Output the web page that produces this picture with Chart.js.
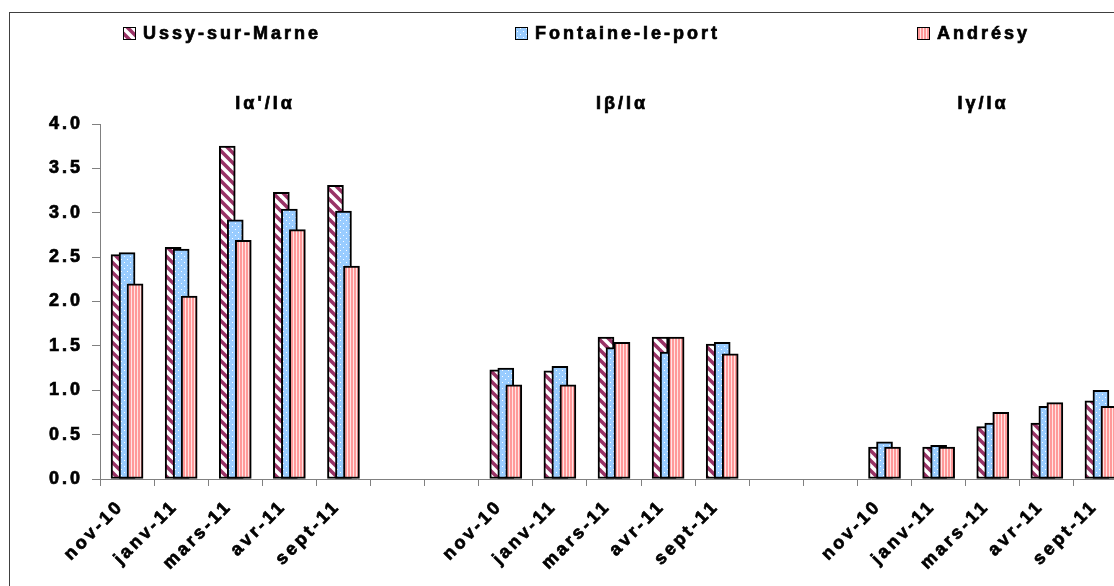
<!DOCTYPE html>
<html>
<head>
<meta charset="utf-8">
<script src="https://cdn.jsdelivr.net/npm/chart.js@4.4.0/dist/chart.umd.min.js"></script>
<style>
  html, body { margin: 0; padding: 0; background: #fff; overflow: hidden; }
</style>
</head>
<body>
<canvas id="chart" width="1140" height="600"></canvas>
<script>
// categories
const months = ['nov-10', 'janv-11', 'mars-11', 'avr-11', 'sept-11'];
const ratioTitles = ["Iα'/Iα", 'Iβ/Iα', 'Iγ/Iα'];
const seriesNames = ['Ussy-sur-Marne', 'Fontaine-le-port', 'Andrésy'];

// values: Iα'/Iα, Iβ/Iα, Iγ/Iα (5 months each)
const ussyValues = [
  2.53, 2.61, 3.75, 3.23, 3.31,
  1.23, 1.22, 1.60, 1.60, 1.52,
  0.36, 0.36, 0.59, 0.63, 0.88
];
const fontaineValues = [
  2.55, 2.59, 2.92, 3.04, 3.02,
  1.25, 1.27, 1.48, 1.43, 1.54,
  0.42, 0.38, 0.63, 0.82, 1.00
];
const andresyValues = [
  2.20, 2.06, 2.69, 2.81, 2.40,
  1.06, 1.06, 1.54, 1.60, 1.41,
  0.36, 0.36, 0.75, 0.86, 0.82
];

// y axis
const yMin = 0;
const yMax = 4;
const yStep = 0.5;

const gap = 2; // empty categories between groups
const FONT = '"Liberation Sans", Arial, sans-serif';
const LS = '3px';

// x labels: months, two blanks, months, two blanks, months
const labels = [];
ratioTitles.forEach((t, g) => {
  labels.push(...months);
  if (g < ratioTitles.length - 1) for (let i = 0; i < gap; i++) labels.push('');
});

const pat = (w, h, draw) => {
  const c = document.createElement('canvas');
  c.width = w; c.height = h;
  const g = c.getContext('2d');
  draw(g, w, h);
  return g.createPattern(c, 'repeat');
};

const hatch = pat(10, 10, (g, w, h) => {
  g.fillStyle = '#fff';
  g.fillRect(0, 0, w, h);
  g.strokeStyle = '#993366';
  g.lineWidth = 3.5;
  for (let k = -1; k <= 1; k++) {
    g.beginPath();
    g.moveTo(-5, -5 + k * 10);
    g.lineTo(15, 15 + k * 10);
    g.stroke();
  }
});
const dots = pat(6, 6, (g, w, h) => {
  g.fillStyle = '#99ccff';
  g.fillRect(0, 0, w, h);
  g.fillStyle = '#ffffff';
  g.fillRect(1, 1, 1, 1);
  g.fillRect(4, 4, 1, 1);
});
const stripes = pat(3, 4, (g, w, h) => {
  g.fillStyle = '#ff9999';
  g.fillRect(0, 0, w, h);
  g.fillStyle = '#ffe4e4';
  g.fillRect(2, 0, 1, h);
});

const fills = [hatch, dots, stripes];
const allValues = [ussyValues, fontaineValues, andresyValues];
const barShift = [-0.148, 0, 0.148];

const toPoints = (vals, s) => vals.map((v, i) => {
  const g = Math.floor(i / months.length);
  const m = i % months.length;
  return { x: g * (months.length + gap) + m + barShift[s], y: v };
});

const datasets = seriesNames.map((name, s) => ({
  label: name,
  data: toPoints(allValues[s], s),
  xAxisID: 'xl',
  backgroundColor: fills[s],
  borderColor: '#000',
  borderWidth: 2,
  borderSkipped: false,
  barThickness: 16,
  grouped: false,
  order: seriesNames.length - 1 - s
}));

const spacing = {
  id: 'spacing',
  beforeUpdate(chart) { chart.ctx.letterSpacing = LS; },
  beforeDraw(chart) { chart.ctx.letterSpacing = LS; }
};

// frame, legend and group titles
const legendLeft = [123, 515, 917];
const titleAt = [2.55, 9.15, 15.82];

const boldText = (ctx, t, x, y) => {
  ctx.strokeText(t, x, y);
  ctx.fillText(t, x, y);
};

const deco = {
  id: 'deco',
  beforeDraw(chart) {
    const ctx = chart.ctx;
    ctx.save();
    ctx.fillStyle = '#fff';
    ctx.fillRect(0, 0, chart.width, chart.height);
    ctx.strokeStyle = '#404040';
    ctx.lineWidth = 1;
    ctx.strokeRect(9.5, 12.5, chart.width + 50, chart.height + 50);
    ctx.restore();
  },
  afterDraw(chart) {
    const ctx = chart.ctx;
    ctx.save();
    ctx.letterSpacing = LS;
    ctx.font = 'bold 18px ' + FONT;
    ctx.textBaseline = 'middle';
    ctx.textAlign = 'left';
    seriesNames.forEach((name, s) => {
      const x = legendLeft[s];
      ctx.fillStyle = fills[s];
      ctx.fillRect(x, 27, 12, 12);
      ctx.strokeStyle = '#000';
      ctx.lineWidth = 1;
      ctx.strokeRect(x + 0.5, 27.5, 12, 12);
      ctx.fillStyle = '#000';
      ctx.lineWidth = 0.7;
      boldText(ctx, name, x + 20, 34);
    });
    ctx.textAlign = 'center';
    const xs = chart.scales.xl;
    ratioTitles.forEach((t, g) => {
      boldText(ctx, t, xs.getPixelForValue(titleAt[g]), 104);
    });
    ctx.restore();
  }
};

Chart.defaults.font.family = FONT;
Chart.defaults.font.size = 18;
Chart.defaults.font.weight = 'bold';
Chart.defaults.color = '#000';

new Chart(document.getElementById('chart'), {
  type: 'bar',
  data: { labels, datasets },
  options: {
    responsive: false,
    animation: false,
    layout: { padding: { left: 10, top: 124, right: 12, bottom: 11 } },
    plugins: { legend: { display: false }, tooltip: { enabled: false } },
    scales: {
      x: {
        type: 'category',
        offset: true,
        grid: { offset: true, drawOnChartArea: false, tickLength: 7, color: '#808080' },
        border: { color: '#808080' },
        ticks: {
          autoSkip: false, minRotation: 45, maxRotation: 45, padding: 10, labelOffset: -6,
          color: '#000', textStrokeColor: '#000', textStrokeWidth: 0.7
        },
        afterFit(s) { s.height = 110; s.paddingLeft = 0; s.paddingRight = 0; }
      },
      xl: {
        type: 'linear',
        display: false,
        offset: false,
        min: -0.5,
        max: labels.length - 0.5
      },
      y: {
        min: yMin,
        max: yMax,
        ticks: {
          stepSize: yStep, padding: 9, color: '#000', textStrokeColor: '#000', textStrokeWidth: 0.7,
          callback: v => v.toFixed(1)
        },
        grid: { drawOnChartArea: false, tickLength: 8, color: '#808080' },
        border: { color: '#808080' },
        afterFit(s) { s.width = 90; s.paddingTop = 0; s.paddingBottom = 0; }
      }
    }
  },
  plugins: [spacing, deco]
});
</script>
</body>
</html>
